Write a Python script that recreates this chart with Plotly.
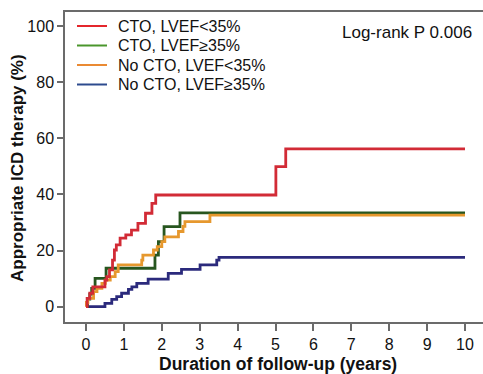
import plotly.graph_objects as go

# ---- data ----
series_names = ["CTO, LVEF<35%", "CTO, LVEF\u226535%", "No CTO, LVEF<35%", "No CTO, LVEF\u226535%"]

red_t = [0, 0.03, 0.1, 0.18, 0.5, 0.55, 0.62, 0.7, 0.75, 0.8, 0.9, 1.05, 1.2, 1.37, 1.57, 1.74, 1.84, 5.01, 5.27, 10]
red_v = [0, 3.0, 4.8, 7.1, 9.5, 10.7, 13.1, 16.6, 20.2, 22.0, 24.4, 25.6, 27.3, 29.7, 33.3, 36.8, 39.8, 49.9, 56.2, 56.2]

green_t = [0, 0.04, 0.1, 0.15, 0.24, 0.53, 1.82, 1.91, 2.06, 2.48, 10]
green_v = [0, 2.7, 4.5, 6.5, 10.1, 13.7, 18.4, 23.2, 28.5, 33.4, 33.4]

orange_t = [0, 0.01, 0.05, 0.2, 0.29, 0.42, 0.51, 0.64, 0.77, 0.85, 1.47, 1.5, 1.78, 1.88, 2.0, 2.08, 2.44, 2.56, 2.61, 3.27, 10]
orange_v = [0, 1.5, 3.0, 5.4, 6.5, 8.3, 9.5, 10.7, 12.5, 14.9, 16.6, 18.4, 20.2, 21.4, 23.2, 24.9, 26.8, 28.6, 30.3, 32.6, 32.6]

blue_t = [0, 0.5, 0.68, 0.81, 0.94, 1.12, 1.21, 1.34, 1.64, 2.17, 2.52, 3.01, 3.45, 3.51, 10]
blue_v = [0, 1.2, 2.6, 3.6, 4.8, 6.2, 7.1, 8.3, 9.8, 11.9, 13.3, 14.9, 16.6, 17.6, 17.6]

x_ticks = [0, 1, 2, 3, 4, 5, 6, 7, 8, 9, 10]
y_ticks = [0, 20, 40, 60, 80, 100]
logrank_text = "Log-rank P 0.006"
x_title = "Duration of follow-up (years)"
y_title = "Appropriate ICD therapy (%)"

# ---- styles ----
line_colors = ["#d22b36", "#27561f", "#e6982e", "#2b2a7c"]
legend_colors = ["#e4262c", "#4a962c", "#ea8a33", "#2d4b8e"]
FONT = "Liberation Sans, Arial, sans-serif"
AXC = "#6b6b6b"

W, H = 483, 374
L, R, T, B = 65, 483, 12, 322

def px_x(px):
    return (px - L) / (R - L)

def px_y(py):
    return (B - py) / (B - T)

fig = go.Figure()
data = [(red_t, red_v), (green_t, green_v), (orange_t, orange_v), (blue_t, blue_v)]
# draw in an order so that red is on top, orange above green as in the reference
order = [3, 1, 2, 0]
for i in order:
    t, v = data[i]
    fig.add_trace(go.Scatter(x=t, y=v, mode="lines", line=dict(color=line_colors[i], width=2.8, shape="hv"),
                             name=series_names[i], showlegend=False, hoverinfo="skip"))

shapes = []
annotations = []
legend_y = [26, 45.5, 65, 84.5]
for i, name in enumerate(series_names):
    yy = px_y(legend_y[i])
    shapes.append(dict(type="line", xref="paper", yref="paper", x0=px_x(77), x1=px_x(107), y0=yy, y1=yy,
                       line=dict(color=legend_colors[i], width=2)))
    annotations.append(dict(text=name, xref="paper", yref="paper", x=px_x(115.5), y=yy, xanchor="left",
                            yanchor="middle", showarrow=False, font=dict(family=FONT, size=16, color="#111111")))

annotations.append(dict(text=logrank_text, xref="paper", yref="paper", x=px_x(474), y=px_y(32), xanchor="right",
                        yanchor="middle", showarrow=False, font=dict(family=FONT, size=17, color="#111111")))
annotations.append(dict(text="<b>" + x_title + "</b>", xref="paper", yref="paper", x=px_x(278), y=px_y(364),
                        xanchor="center", yanchor="middle", showarrow=False,
                        font=dict(family=FONT, size=17.5, color="#111111")))
annotations.append(dict(text="<b>" + y_title + "</b>", xref="paper", yref="paper", x=px_x(18), y=px_y(168),
                        xanchor="center", yanchor="middle", textangle=-90, showarrow=False,
                        font=dict(family=FONT, size=17, color="#111111")))

fig.update_layout(
    width=W, height=H,
    margin=dict(l=L, r=W - R, t=T, b=H - B, pad=0),
    paper_bgcolor="white", plot_bgcolor="white",
    font=dict(family=FONT, size=16, color="#111111"),
    shapes=shapes, annotations=annotations,
    showlegend=False,
)
fig.update_xaxes(range=[-0.554, 10.475], tickvals=x_ticks, ticks="outside", ticklen=7, tickwidth=1.5,
                 tickcolor=AXC, showline=True, linecolor=AXC, linewidth=1.5, mirror=True, showgrid=False,
                 zeroline=False, tickfont=dict(family=FONT, size=16, color="#111111"))
fig.update_yaxes(range=[-5.45, 105.0], tickvals=y_ticks, ticks="outside", ticklen=6, tickwidth=1.5,
                 tickcolor=AXC, showline=True, linecolor=AXC, linewidth=1.5, showgrid=False, zeroline=False,
                 tickfont=dict(family=FONT, size=16, color="#111111"))

fig.write_html("out.html")
